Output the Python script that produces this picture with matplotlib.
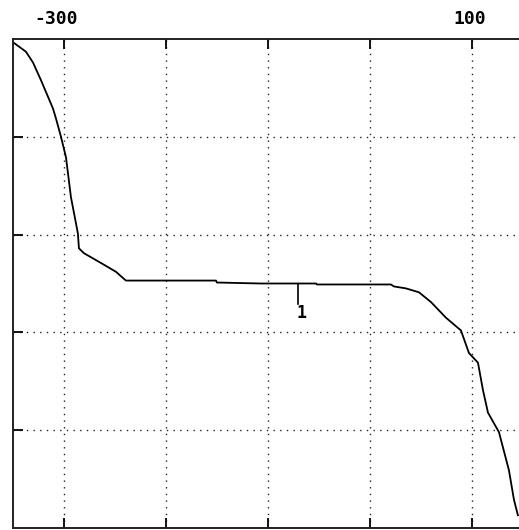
import matplotlib
matplotlib.use('Agg')
import matplotlib.pyplot as plt

# curve
x_vals = [-349.1, -337.3, -330.4, -322.6, -310.8, -307.9, -302.9, -298.0, -293.1, -289.2,
          -286.3, -285.3, -280.4, -263.7, -249.0, -239.2, -150.8, -149.9, -106.7, -52.7,
          -51.7, 20.9, 23.8, 35.6, 48.4, 60.2, 74.9, 89.6, 97.4, 106.3,
          111.2, 116.1, 126.9, 136.7, 141.6, 145.5]
y_vals = [4.96, 4.87, 4.76, 4.58, 4.29, 4.19, 4.00, 3.79, 3.38, 3.17,
          3.01, 2.86, 2.81, 2.71, 2.62, 2.53, 2.53, 2.51, 2.50, 2.50,
          2.49, 2.49, 2.47, 2.45, 2.41, 2.31, 2.15, 2.02, 1.79, 1.69,
          1.41, 1.18, 0.98, 0.59, 0.29, 0.13]

x_grid = [-300, -200, -100, 0, 100]
y_grid = [1, 2, 3, 4]
top_labels = {-300: '-300', 100: '100'}

marker_x = -70
marker_y = [2.50, 2.29]
marker_label = '1'

fig = plt.figure(figsize=(5.19, 5.30), dpi=100)
ax = fig.add_axes([13 / 519, 2 / 530, 506 / 519, 489 / 530])

ax.plot(x_vals, y_vals, color='black', lw=1.3)
ax.plot([marker_x, marker_x], marker_y, color='black', lw=1.2)
ax.text(marker_x + 3, 2.20, marker_label, ha='center', va='center',
        fontsize=12, fontweight='heavy', family='DejaVu Sans Mono')

ax.set_xlim(-350, -350 + 506 / 1.019)
ax.set_ylim(0, 5)

ax.set_xticks(x_grid)
ax.set_yticks(y_grid)
ax.set_xticklabels([])
ax.set_yticklabels([])
ax.tick_params(direction='in', length=7, width=1.4, color='#111111',
               top=True, bottom=True, left=True, right=False)
ax.grid(True, color='#222222', lw=1.0, linestyle=(0, (1.0, 3.8)))

for side in ['left', 'top', 'bottom']:
    ax.spines[side].set_linewidth(1.4)
    ax.spines[side].set_color('#222222')
ax.spines['right'].set_visible(False)

for xv, lab in top_labels.items():
    shift = -8 if lab.startswith('-') else -2
    ax.text(xv + shift, 5.0 + 20 / 97.8, lab, ha='center', va='center',
            fontsize=13, fontweight='heavy', family='DejaVu Sans Mono')

fig.savefig('out.png', dpi=100)
plt.close()
